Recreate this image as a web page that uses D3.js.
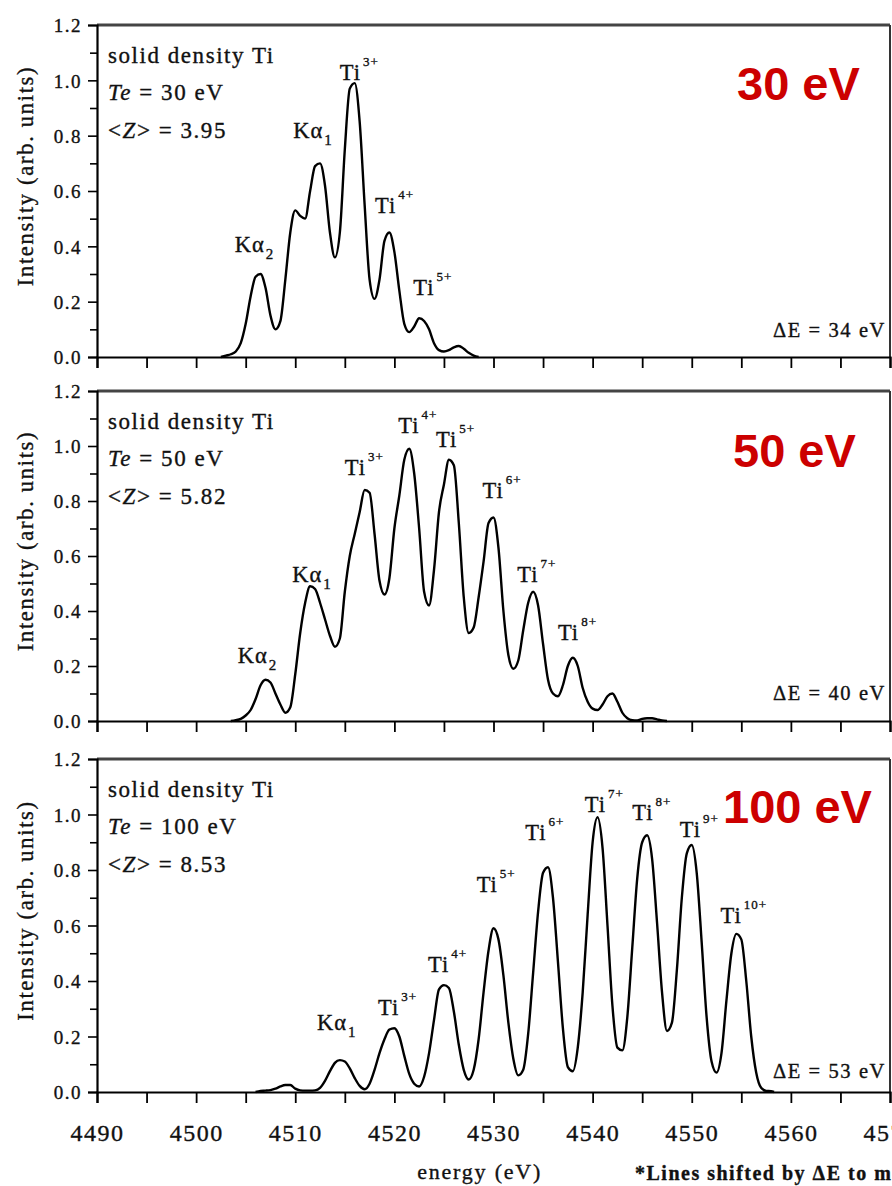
<!DOCTYPE html>
<html><head><meta charset="utf-8">
<script src="https://cdn.jsdelivr.net/npm/d3@7"></script>
<style>
html,body{margin:0;padding:0;background:#fff;overflow:hidden;}
svg{display:block;}
.serif{stroke:#111;stroke-width:0.35px;}
</style></head>
<body>
<svg id="chart" width="892" height="1186"></svg>
<script>
// ---------------- DATA ----------------
const xTickValues = [4490,4495,4500,4505,4510,4515,4520,4525,4530,4535,4540,4545,4550,4555,4560,4565,4570];
const xTickLabels = [4490,4500,4510,4520,4530,4540,4550,4560,4570];
const yTickValues = [0.0,0.2,0.4,0.6,0.8,1.0,1.2];
const yMinorTicks = [0.1,0.3,0.5,0.7,0.9,1.1];

const panelTemps = ["30 eV","50 eV","100 eV"];
const teValues = ["30","50","100"];
const zValues = ["3.95","5.82","8.53"];
const deltaE = ["34","40","53"];

const spectrum30 = [[4502.5,0],[4503,0.005],[4503.5,0.01],[4504,0.02],[4504.5,0.05],[4505,0.12],[4505.5,0.22],[4506,0.29],[4506.5,0.30],[4507,0.25],[4507.5,0.15],[4508,0.10],[4508.5,0.13],[4509,0.28],[4509.5,0.45],[4510,0.53],[4510.5,0.51],[4511,0.50],[4511.5,0.60],[4512,0.69],[4512.5,0.70],[4513,0.62],[4513.5,0.45],[4514,0.36],[4514.5,0.45],[4515,0.75],[4515.5,0.97],[4516,0.99],[4516.5,0.85],[4517,0.55],[4517.5,0.28],[4518,0.21],[4518.5,0.28],[4519,0.42],[4519.5,0.45],[4520,0.38],[4520.5,0.24],[4521,0.12],[4521.5,0.09],[4522,0.11],[4522.5,0.14],[4523,0.13],[4523.5,0.10],[4524,0.05],[4524.5,0.025],[4525,0.02],[4525.5,0.025],[4526,0.035],[4526.5,0.04],[4527,0.03],[4527.5,0.015],[4528,0.005],[4528.5,0]];

const spectrum50 = [[4503.5,0],[4504,0.003],[4504.5,0.008],[4505,0.02],[4505.5,0.04],[4506,0.08],[4506.5,0.13],[4507,0.15],[4507.5,0.14],[4508,0.10],[4508.5,0.06],[4509,0.03],[4509.5,0.05],[4510,0.17],[4510.5,0.32],[4511,0.43],[4511.5,0.49],[4512,0.48],[4512.5,0.43],[4513,0.37],[4513.5,0.31],[4514,0.27],[4514.5,0.30],[4515,0.47],[4515.5,0.60],[4516,0.68],[4516.5,0.76],[4517,0.84],[4517.5,0.83],[4518,0.68],[4518.5,0.51],[4519,0.46],[4519.5,0.52],[4520,0.70],[4520.5,0.82],[4521,0.95],[4521.5,0.99],[4522,0.90],[4522.5,0.70],[4523,0.47],[4523.5,0.42],[4524,0.55],[4524.5,0.76],[4525,0.86],[4525.5,0.95],[4526,0.93],[4526.5,0.72],[4527,0.45],[4527.5,0.32],[4528,0.34],[4528.5,0.45],[4529,0.58],[4529.5,0.72],[4530,0.74],[4530.5,0.63],[4531,0.40],[4531.5,0.24],[4532,0.19],[4532.5,0.22],[4533,0.33],[4533.5,0.43],[4534,0.47],[4534.5,0.42],[4535,0.28],[4535.5,0.15],[4536,0.10],[4536.5,0.09],[4537,0.13],[4537.5,0.20],[4538,0.23],[4538.5,0.20],[4539,0.12],[4539.5,0.07],[4540,0.045],[4540.5,0.04],[4541,0.06],[4541.5,0.09],[4542,0.10],[4542.5,0.07],[4543,0.03],[4543.5,0.01],[4544,0.003],[4544.5,0.002],[4545,0.008],[4545.5,0.01],[4546,0.01],[4546.5,0.006],[4547,0.002],[4547.5,0]];

const spectrum100 = [[4506,0],[4506.5,0.004],[4507,0.005],[4507.5,0.007],[4508,0.012],[4508.5,0.02],[4509,0.025],[4509.5,0.025],[4510,0.012],[4510.5,0.006],[4511,0.005],[4511.5,0.005],[4512,0.006],[4512.5,0.015],[4513,0.04],[4513.5,0.075],[4514,0.105],[4514.5,0.115],[4515,0.11],[4515.5,0.085],[4516,0.05],[4516.5,0.022],[4517,0.01],[4517.5,0.03],[4518,0.08],[4518.5,0.14],[4519,0.19],[4519.5,0.225],[4520,0.23],[4520.5,0.20],[4521,0.13],[4521.5,0.065],[4522,0.03],[4522.5,0.02],[4523,0.055],[4523.5,0.14],[4524,0.26],[4524.5,0.37],[4525,0.385],[4525.5,0.375],[4526,0.29],[4526.5,0.17],[4527,0.08],[4527.5,0.045],[4528,0.08],[4528.5,0.19],[4529,0.36],[4529.5,0.51],[4530,0.59],[4530.5,0.55],[4531,0.42],[4531.5,0.25],[4532,0.12],[4532.5,0.06],[4533,0.08],[4533.5,0.21],[4534,0.43],[4534.5,0.65],[4535,0.79],[4535.5,0.81],[4536,0.70],[4536.5,0.47],[4537,0.23],[4537.5,0.09],[4538,0.075],[4538.5,0.16],[4539,0.36],[4539.5,0.64],[4540,0.90],[4540.5,0.99],[4541,0.88],[4541.5,0.60],[4542,0.31],[4542.5,0.16],[4543,0.15],[4543.5,0.27],[4544,0.52],[4544.5,0.77],[4545,0.90],[4545.5,0.925],[4546,0.84],[4546.5,0.61],[4547,0.36],[4547.5,0.22],[4548,0.25],[4548.5,0.44],[4549,0.70],[4549.5,0.86],[4550,0.89],[4550.5,0.79],[4551,0.54],[4551.5,0.27],[4552,0.11],[4552.5,0.07],[4553,0.14],[4553.5,0.33],[4554,0.50],[4554.5,0.57],[4555,0.55],[4555.5,0.40],[4556,0.20],[4556.5,0.07],[4557,0.015],[4557.5,0.004],[4558,0.003],[4558.3,0]];

// peak labels: [energy, intensity, base, kind('sub'|'sup'), index text]
const peaks30 = [[4503.9,0.38,"Kα","sub","2"],[4509.8,0.79,"Kα","sub","1"],[4514.5,1.0,"Ti","sup","3+"],[4518.05,0.52,"Ti","sup","4+"],[4521.9,0.224,"Ti","sup","5+"]];
const peaks50 = [[4504.2,0.21,"Kα","sub","2"],[4509.7,0.505,"Kα","sub","1"],[4515.0,0.895,"Ti","sup","3+"],[4520.4,1.047,"Ti","sup","4+"],[4524.2,0.996,"Ti","sup","5+"],[4528.9,0.811,"Ti","sup","6+"],[4532.4,0.505,"Ti","sup","7+"],[4536.5,0.295,"Ti","sup","8+"]];
const peaks100 = [[4512.2,0.223,"Kα","sub","1"],[4518.35,0.277,"Ti","sup","3+"],[4523.4,0.432,"Ti","sup","4+"],[4528.3,0.721,"Ti","sup","5+"],[4533.2,0.908,"Ti","sup","6+"],[4539.2,1.009,"Ti","sup","7+"],[4544.0,0.98,"Ti","sup","8+"],[4548.8,0.919,"Ti","sup","9+"],[4552.9,0.609,"Ti","sup","10+"]];

// ---------------- LAYOUT ----------------
const svg = d3.select("#chart");
const serif = "'Liberation Serif','Times New Roman',serif";
const ink = "#111";
const x = d3.scaleLinear().domain([4490,4570]).range([97,890]);
const panels = [
  {top:25, bottom:357, data:spectrum30, peaks:peaks30, redX:737, redY:75, dY:20},
  {top:391, bottom:721, data:spectrum50, peaks:peaks50, redX:733, redY:76, dY:21},
  {top:759, bottom:1092, data:spectrum100, peaks:peaks100, redX:723, redY:64, dY:14}
];

panels.forEach((p,i)=>{
  const y = d3.scaleLinear().domain([0,1.2]).range([p.bottom,p.top]);
  const g = svg.append("g");

  // frame
  g.append("line").attr("x1",x(4490)).attr("x2",x(4570)).attr("y1",y(1.2)).attr("y2",y(1.2))
    .attr("stroke","#444").attr("stroke-width",3);
  g.append("line").attr("x1",x(4570)).attr("x2",x(4570)).attr("y1",y(1.2)).attr("y2",y(0))
    .attr("stroke","#333").attr("stroke-width",2);

  // y axis (major + minor)
  const ya = g.append("g").attr("transform",`translate(${x(4490)},0)`)
    .call(d3.axisLeft(y).tickValues(yTickValues).tickFormat(d3.format(".1f")).tickSize(9).tickPadding(6));
  ya.select(".domain").attr("stroke","#000").attr("stroke-width",2.2);
  ya.selectAll(".tick line").attr("stroke","#000").attr("stroke-width",1.6);
  ya.selectAll(".tick text").attr("class","serif").attr("font-family",serif).attr("font-size",19)
    .style("letter-spacing","1.5px").attr("fill",ink).attr("dy","0.36em");
  const ym = g.append("g").attr("transform",`translate(${x(4490)},0)`)
    .call(d3.axisLeft(y).tickValues(yMinorTicks).tickFormat("").tickSize(7));
  ym.select(".domain").remove();
  ym.selectAll(".tick line").attr("stroke","#000").attr("stroke-width",1.6);

  // x axis
  const xa = g.append("g").attr("transform",`translate(0,${y(0)})`)
    .call(d3.axisBottom(x).tickValues(xTickValues).tickSize(11)
      .tickFormat(d => (i===2 && xTickLabels.includes(d)) ? d : ""));
  xa.select(".domain").attr("stroke","#000").attr("stroke-width",2.2);
  xa.selectAll(".tick line").attr("stroke","#000").attr("stroke-width",1.8);
  xa.selectAll(".tick text").attr("class","serif").attr("font-family",serif).attr("font-size",24)
    .style("letter-spacing","1.5px").attr("fill",ink).attr("dy","1.45em");

  // spectrum line
  const line = d3.line().x(d=>x(d[0])).y(d=>y(d[1])).curve(d3.curveMonotoneX);
  g.append("path").datum(p.data).attr("d",line)
    .attr("fill","none").attr("stroke","#000").attr("stroke-width",2.4).attr("stroke-linejoin","round");

  // y label
  g.append("text").attr("class","serif").attr("transform",`translate(33,${(p.top+p.bottom)/2-15}) rotate(-90)`)
    .attr("text-anchor","middle").attr("font-family",serif).attr("font-size",22.5)
    .style("letter-spacing","1.7px").attr("fill",ink).text("Intensity (arb. units)");

  // info block
  const info = g.append("g").attr("class","serif").attr("font-family",serif).attr("font-size",23)
    .style("letter-spacing","1.55px").attr("fill",ink);
  info.append("text").attr("x",108).attr("y",p.top+38).text("solid density Ti");
  const t2 = info.append("text").attr("x",108).attr("y",p.top+75);
  t2.append("tspan").attr("font-style","italic").text("Te");
  t2.append("tspan").text(" = " + teValues[i] + " eV");
  const t3 = info.append("text").attr("x",108).attr("y",p.top+113);
  t3.append("tspan").text("<");
  t3.append("tspan").attr("font-style","italic").text("Z");
  t3.append("tspan").text("> = " + zValues[i]);

  // ΔE
  g.append("text").attr("class","serif").attr("x",886).attr("y",p.bottom-p.dY).attr("text-anchor","end")
    .attr("font-family",serif).attr("font-size",20.5).style("letter-spacing","1.6px")
    .attr("fill",ink).text("ΔE = " + deltaE[i] + " eV");

  // red temperature label
  g.append("text").attr("x",p.redX).attr("y",p.top+p.redY)
    .attr("font-family","'Liberation Sans',Arial,sans-serif").attr("font-weight","bold")
    .attr("font-size",47).attr("fill","#cc0000").text(panelTemps[i]);

  // peak labels
  p.peaks.forEach(pk=>{
    const t = g.append("text").attr("class","serif").attr("x",x(pk[0])).attr("y",y(pk[1]))
      .attr("font-family",serif).attr("font-size",22.5).style("letter-spacing","1px").attr("fill",ink);
    t.append("tspan").text(pk[2]);
    if(pk[3]==="sub"){
      t.append("tspan").attr("font-size",15).attr("dy",7).attr("dx",1).text(pk[4]);
    } else {
      t.append("tspan").attr("font-size",13).attr("dy",-14).attr("dx",2).text(pk[4]);
    }
  });
});

// x axis title and footnote
svg.append("text").attr("class","serif").attr("x",(x(4482.0)+x(4574))/2+6).attr("y",1179).attr("text-anchor","middle")
  .attr("font-family",serif).attr("font-size",22).style("letter-spacing","1.8px").attr("fill",ink)
  .text("energy (eV)");
svg.append("text").attr("class","serif").attr("x",635).attr("y",1180)
  .attr("font-family",serif).attr("font-weight","bold").attr("font-size",20)
  .style("letter-spacing","1.5px").attr("fill",ink)
  .text("*Lines shifted by ΔE to match experiment");
</script>
</body></html>
